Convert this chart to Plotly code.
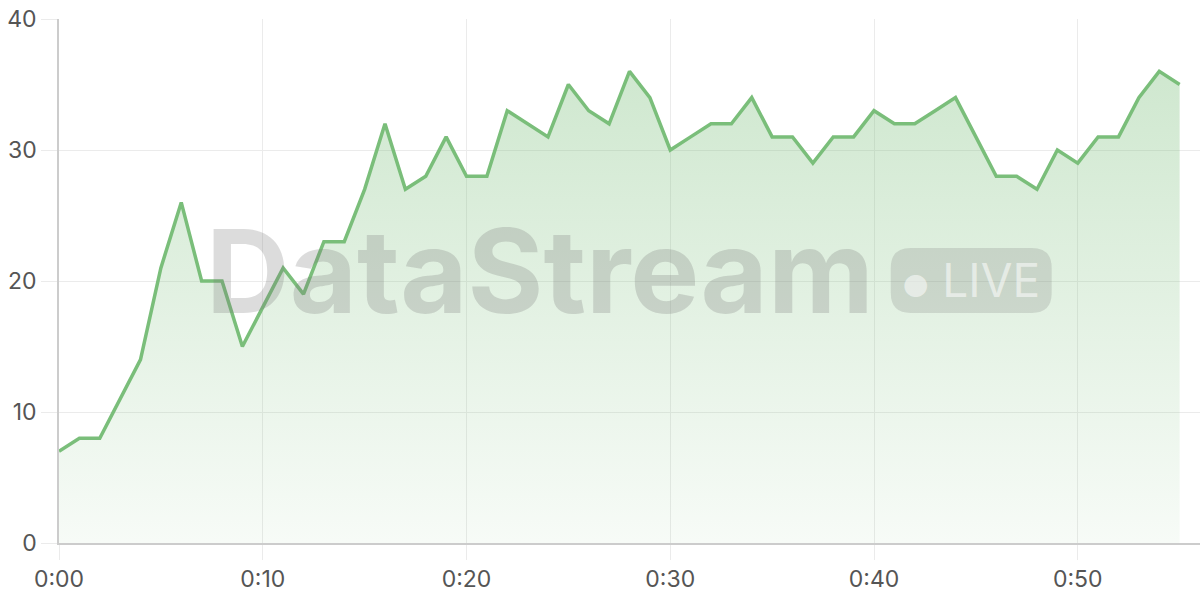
import plotly.graph_objects as go

# viewer count per minute of the stream
values = [7, 8, 8, 11, 14, 21, 26, 20, 20, 15,
          18, 21, 19, 23, 23, 27, 32, 27, 28, 31,
          28, 28, 33, 32, 31, 35, 33, 32, 36, 34,
          30, 31, 32, 32, 34, 31, 31, 29, 31, 31,
          33, 32, 32, 33, 34, 31, 28, 28, 27, 30,
          29, 31, 31, 34, 36, 35]
minutes = list(range(len(values)))

x_tick_vals = [0, 10, 20, 30, 40, 50]
x_tick_text = ["0:00", "0:10", "0:20", "0:30", "0:40", "0:50"]
y_tick_vals = [0, 10, 20, 30, 40]

line_color = "rgb(122,190,122)"
grid_color = "#ebebeb"
axis_color = "#cccccc"

fig = go.Figure()

fig.add_trace(go.Scatter(
    x=minutes, y=values,
    mode="lines",
    line=dict(color=line_color, width=3.5),
    fill="tozeroy",
    fillgradient=dict(
        type="vertical",
        colorscale=[[0, "rgba(122,190,122,0.06)"], [1, "rgba(122,190,122,0.36)"]],
    ),
    hoverinfo="skip",
))

# watermark text
fig.add_annotation(
    text="<b>DataStream</b>",
    xref="paper", yref="paper",
    x=0.4216, y=0.52, xanchor="center", yanchor="middle",
    showarrow=False,
    font=dict(family="Inter", size=116, color="rgba(120,120,120,0.26)"),
)

# rounded "live" pill next to the watermark
px0, px1 = 0.729, 0.870
py0, py1 = 0.439, 0.563
rx, ry = 0.0175, 0.038
pill = (f"M {px0+rx},{py0} L {px1-rx},{py0} Q {px1},{py0} {px1},{py0+ry} "
        f"L {px1},{py1-ry} Q {px1},{py1} {px1-rx},{py1} "
        f"L {px0+rx},{py1} Q {px0},{py1} {px0},{py1-ry} "
        f"L {px0},{py0+ry} Q {px0},{py0} {px0+rx},{py0} Z")
fig.add_shape(type="path", path=pill, xref="paper", yref="paper",
              fillcolor="rgba(120,120,120,0.22)", line_width=0)
fig.add_annotation(
    text="<span style='font-size:30px'>●</span> LIVE",
    xref="paper", yref="paper",
    x=(px0 + px1) / 2, y=(py0 + py1) / 2, xanchor="center", yanchor="middle",
    showarrow=False,
    font=dict(family="Inter", size=46, color="rgba(255,255,255,0.55)"),
)

fig.update_layout(
    width=1200, height=600,
    margin=dict(l=59, r=0, t=19, b=57),
    plot_bgcolor="white", paper_bgcolor="white",
    showlegend=False,
    font=dict(family="Inter", size=23, color="#555"),
    xaxis=dict(
        range=[0, 56], tickvals=x_tick_vals, ticktext=x_tick_text,
        showgrid=True, gridcolor=grid_color, gridwidth=1,
        showline=True, linecolor=axis_color, linewidth=1.5,
        ticks="outside", ticklen=15, tickcolor=grid_color, tickwidth=1,
        zeroline=False, automargin=False,
    ),
    yaxis=dict(
        range=[0, 40], tickvals=y_tick_vals,
        showgrid=True, gridcolor=grid_color, gridwidth=1,
        showline=True, linecolor=axis_color, linewidth=1.5,
        ticks="outside", ticklen=16, tickcolor=grid_color, tickwidth=1,
        zeroline=False, automargin=False,
    ),
)

# the page body has a default 8px margin, drop it so the chart fills the window
fig.write_html("out.html", config={"displayModeBar": False},
               post_script="document.body.style.margin='0';")
